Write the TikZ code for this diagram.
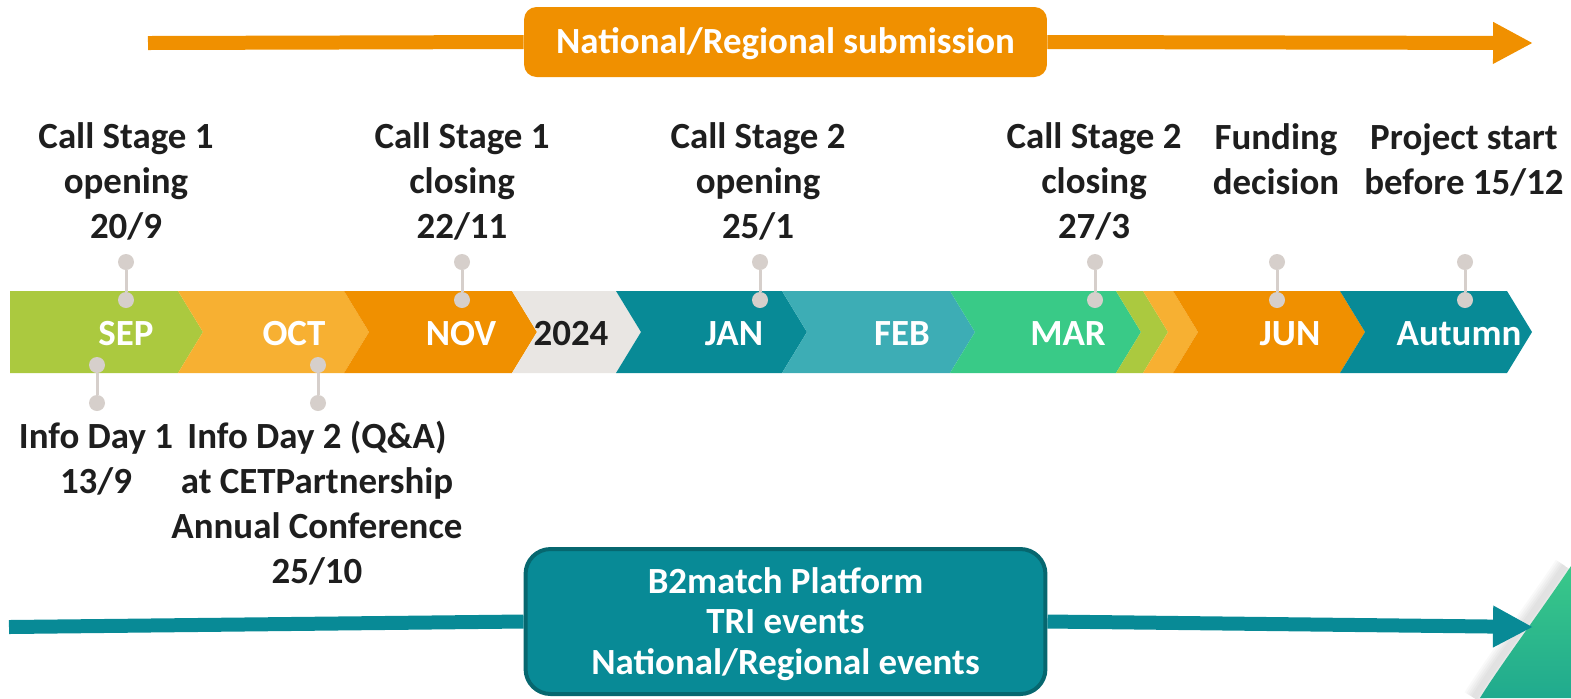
\documentclass[tikz,border=0pt]{standalone}
\usepackage{fontspec}
\setmainfont{Carlito}
\usetikzlibrary{arrows.meta}

\definecolor{seplime}{HTML}{ABC93F}
\definecolor{octorange}{HTML}{F7B032}
\definecolor{novorange}{HTML}{F09000}
\definecolor{yeargray}{HTML}{E9E6E3}
\definecolor{janteal}{HTML}{088A96}
\definecolor{febteal}{HTML}{3DADB5}
\definecolor{margreen}{HTML}{39CA87}
\definecolor{pingray}{HTML}{D6CFCB}
\definecolor{tealdark}{HTML}{06676F}
\definecolor{txtblack}{HTML}{1E1E1E}
\definecolor{cornergreen}{HTML}{3AC889}
\definecolor{cornergreendark}{HTML}{20AA8E}

% one chevron of the month band: left x, right x, colour
\newcommand{\chev}[3]{\fill[#3] (#1,291) -- (#2,291) -- (#2+25,332) -- (#2,373) -- (#1,373) -- (#1+25,332) -- cycle;}

\tikzset{
  lbl/.style={font=\bfseries\fontsize{21}{25.6}\selectfont, text=txtblack, align=center, inner sep=0pt, anchor=base},
  month/.style={font=\bfseries\fontsize{21}{25.6}\selectfont, text=white, inner sep=0pt, anchor=base},
  pin/.style={circle, fill=pingray, minimum size=0.32cm, inner sep=0pt},
  stem/.style={draw=pingray, line width=0.06cm},
  flow/.style={line width=0.28cm, -{Triangle[length=0.8cm,width=0.78cm]}},
}

\begin{document}
\begin{tikzpicture}[x=0.02cm,y=-0.02cm]
  \useasboundingbox (0,0) rectangle (1571,698);

  % corner decoration
  \foreach \s in {22,18,14,10,6}
    \draw[black, opacity=0.025, line width=\s*0.02cm] (1474,698) .. controls (1491,670) and (1534,612) .. (1565,566);
  \shade[top color=cornergreen, bottom color=cornergreendark] (1480,698) .. controls (1497,670) and (1540,612) .. (1571,566) -- (1571,698) -- cycle;

  % top flow
  \node (subbox) [fill=novorange, rounded corners=0.25cm, minimum width=10.46cm, minimum height=1.4cm] at (785.5,42) {};
  \node (subtxt) [month] at (785.5,53) {National/Regional submission};
  \coordinate (subin) at (148,43);
  \coordinate (subout) at (1533,43);
  \draw[flow, draw=novorange, fill=novorange, -] (subin) -- (subbox.west);
  \draw[flow, draw=novorange, fill=novorange] (subbox.east) -- (subout);

  % bottom flow
  \node (matchbox) [fill=janteal, draw=tealdark, line width=0.08cm, rounded corners=0.5cm, minimum width=10.4cm, minimum height=2.9cm] at (785.5,621.5) {};
  \node (matchtxt) [month, align=center, font=\bfseries\fontsize{21}{22.8}\selectfont] at (785.5,674) {B2match Platform\\TRI events\\National/Regional events};
  \coordinate (matchin) at (9,627);
  \coordinate (matchout) at (1533,627);
  \draw[flow, draw=janteal, fill=janteal, -] (matchin) -- (matchbox.west);
  \draw[flow, draw=janteal, fill=janteal] (matchbox.east) -- (matchout);

  % month band
  \fill[seplime] (10,291) -- (178,291) -- (203,332) -- (178,373) -- (10,373) -- cycle;
  \chev{178}{344}{octorange}
  \chev{344}{512}{novorange}
  \chev{512}{616}{yeargray}
  \chev{616}{782}{janteal}
  \chev{782}{950}{febteal}
  \chev{950}{1116}{margreen}
  \chev{1116}{1143}{seplime}
  \chev{1143}{1173}{octorange}
  \chev{1173}{1340}{novorange}
  \chev{1340}{1507}{janteal}

  \node (sep) [month] at (126,345) {SEP};
  \node (oct) [month] at (294,345) {OCT};
  \node (nov) [month] at (461,345) {NOV};
  \node (y2024) [month, text=txtblack] at (571,345) {2024};
  \node (jan) [month] at (734,345) {JAN};
  \node (feb) [month] at (902,345) {FEB};
  \node (mar) [month] at (1068,345) {MAR};
  \node (jun) [month] at (1290,345) {JUN};
  \node (autumn) [month] at (1459,345) {Autumn};

  % pins above the band
  \foreach \x [count=\i] in {126,462,760,1095,1277,1465} {
    \node (pinhi\i) [pin] at (\x,262) {};
    \node (pinlo\i) [pin] at (\x,300) {};
    \draw[stem] (pinhi\i) -- (pinlo\i);
  }
  % pins below the band
  \foreach \x [count=\i] in {97,318} {
    \node (infohi\i) [pin] at (\x,365) {};
    \node (infolo\i) [pin] at (\x,403) {};
    \draw[stem] (infohi\i) -- (infolo\i);
  }

  % dates above
  \node (open1) [lbl] at (126,238) {Call Stage 1\\opening\\20/9};
  \node (close1) [lbl] at (462,238) {Call Stage 1\\closing\\22/11};
  \node (open2) [lbl] at (758,238) {Call Stage 2\\opening\\25/1};
  \node (close2) [lbl] at (1094,238) {Call Stage 2\\closing\\27/3};
  \node (funding) [lbl] at (1276,194) {Funding\\decision};
  \node (start) [lbl] at (1464,194) {Project start\\before 15/12};

  % dates below
  \node (info1) [lbl] at (96,493) {Info Day 1\\13/9};
  \node (info2) [lbl] at (317,583) {Info Day 2 (Q\&A)\\at CETPartnership\\Annual Conference\\25/10};
\end{tikzpicture}
\end{document}
